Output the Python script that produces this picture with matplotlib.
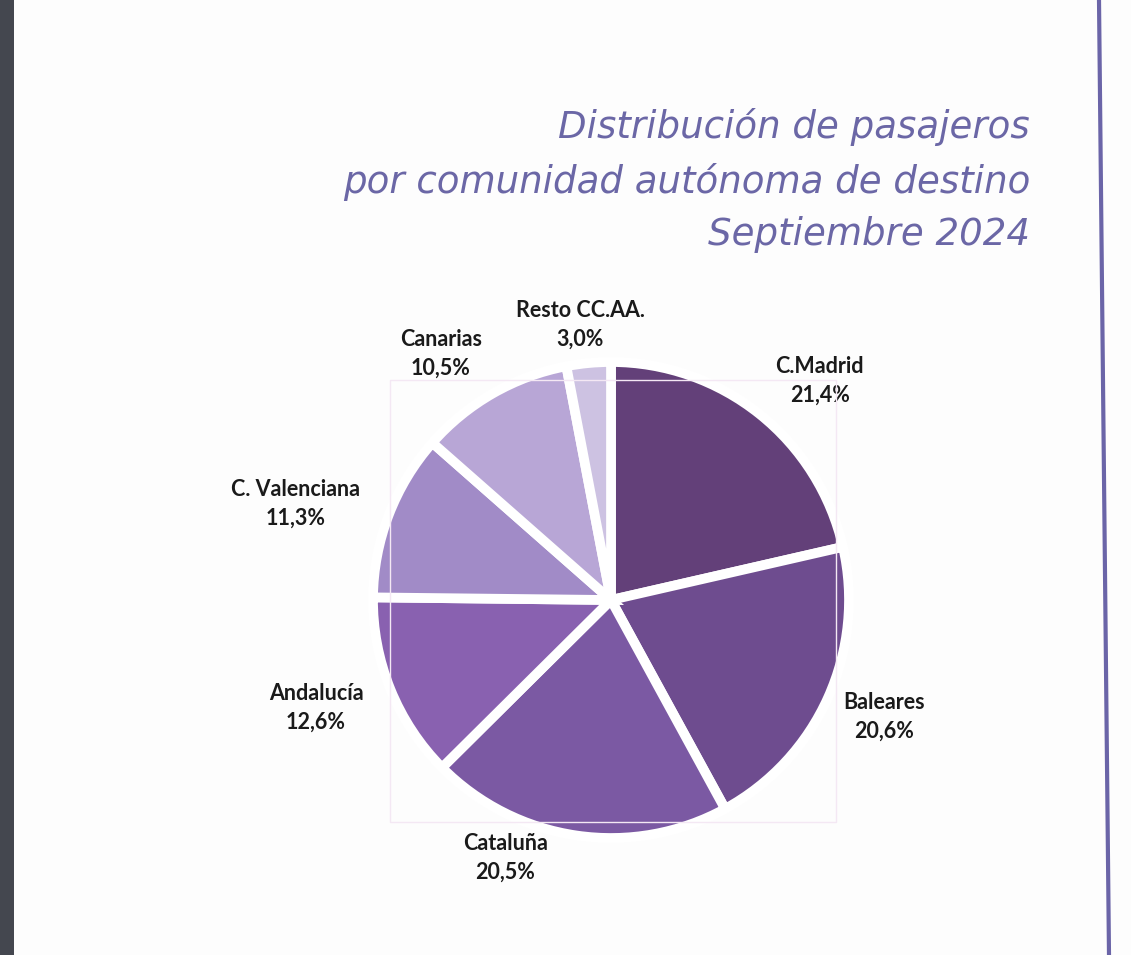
import numpy as np
import matplotlib.pyplot as plt
from matplotlib.patches import Rectangle
from matplotlib.lines import Line2D

# datos: distribución de pasajeros por comunidad autónoma, septiembre 2024
regiones = ['C.Madrid', 'Baleares', 'Cataluña', 'Andalucía',
            'C. Valenciana', 'Canarias', 'Resto CC.AA.']
porcentajes = [21.4, 20.6, 20.5, 12.6, 11.3, 10.5, 3.0]
colores = ['#634079', '#6e4c8f', '#7b59a3', '#8961b0',
           '#a18bc7', '#b8a6d6', '#cdc2e2']

# distancia de cada etiqueta al centro (px) y ajuste de ángulo (grados)
dist_etiq = [303, 297, 279, 314, 330, 299, 277]
ajuste_ang = [-5, 1, -14, -2, 4, 5, 1]

W, H = 1131, 955
fig = plt.figure(figsize=(W / 100, H / 100), dpi=100)
fig.patch.set_facecolor('#fdfdfd')

# franja gris a la izquierda y línea morada a la derecha
fig.add_artist(Rectangle((0, 0), 14 / W, 1, transform=fig.transFigure,
                         facecolor='#44474f', edgecolor='none'))
fig.add_artist(Line2D([1099 / W, 1109 / W], [1, 0], transform=fig.transFigure,
                      color='#6b65a8', linewidth=3))

# marco tenue del área del gráfico
fig.add_artist(Rectangle((390 / W, 1 - 822 / H), 446 / W, 442 / H,
                         transform=fig.transFigure, facecolor='none',
                         edgecolor='#f4e8f4', linewidth=1))

# título
tit_color = '#6b67a6'
lineas = ['Distribución de pasajeros', 'por comunidad autónoma de destino',
          'Septiembre 2024']
bases = [138, 193, 245]
for txt, b in zip(lineas, bases):
    fig.text(1030 / W, 1 - b / H, txt, ha='right', va='baseline',
             fontsize=26.7, style='italic', color=tit_color,
             family='DejaVu Sans')

# tarta
cx, cy, half = 611, 600, 330
ax = fig.add_axes([(cx - half) / W, (H - cy - half) / H, 2 * half / W, 2 * half / H])

wedges, _ = ax.pie(porcentajes, colors=colores, startangle=90, counterclock=False,
                   radius=238, wedgeprops=dict(edgecolor='white', linewidth=7))
ax.set_xlim(-half, half)
ax.set_ylim(-half, half)
ax.set_aspect('equal')
ax.axis('off')

for w, nom, p, d, da in zip(wedges, regiones, porcentajes, dist_etiq, ajuste_ang):
    ang = np.deg2rad((w.theta1 + w.theta2) / 2 + da)
    etiq = nom + '\n' + ('%.1f%%' % p).replace('.', ',')
    ax.text(d * np.cos(ang), d * np.sin(ang), etiq, ha='center', va='center',
            fontsize=15.5, fontweight='bold', color='#1a1a1a',
            family=['Lato', 'DejaVu Sans'], linespacing=1.45)

fig.savefig('out.png', dpi=100, facecolor=fig.get_facecolor())
